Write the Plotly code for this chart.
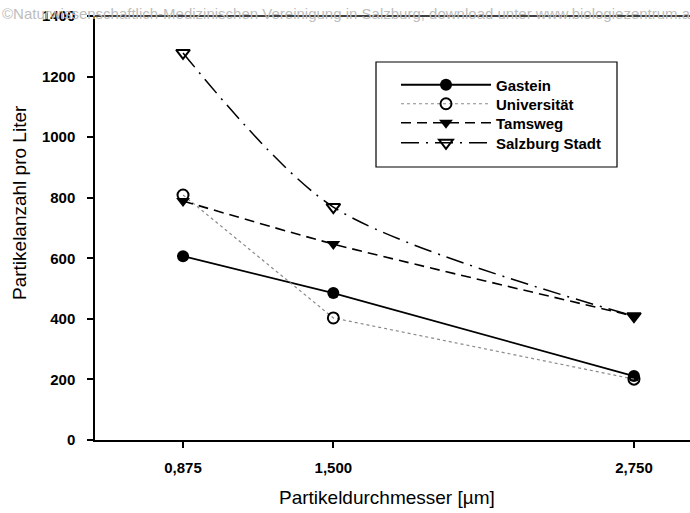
import plotly.graph_objects as go

x_vals = [0.875, 1.5, 2.75]
x_labels = ["0,875", "1,500", "2,750"]
gastein = [607, 485, 211]
universitaet = [809, 403, 201]
tamsweg = [789, 647, 409]
salzburg_stadt = [1278, 769, 409]
y_ticks = [0, 200, 400, 600, 800, 1000, 1200, 1400]

W, H = 690, 513
ML, MR, MT, MB = 95, 0, 16, 73
PW, PH = W - ML - MR, H - MT - MB

def px(x):
    return (x - ML) / PW

def py(y):
    return (H - MB - y) / PH

fig = go.Figure()
fig.add_trace(go.Scatter(x=x_vals, y=gastein, name="Gastein", mode="lines+markers",
                         line=dict(color="black", width=1.8),
                         marker=dict(symbol="circle", size=12, color="black"),
                         legend="legend"))
fig.add_trace(go.Scatter(x=x_vals, y=universitaet, name="Universität", mode="lines+markers",
                         line=dict(color="#8a8a8a", width=1.2, dash="dot"),
                         marker=dict(symbol="circle-open", size=11, color="black", line=dict(width=2)),
                         legend="legend2"))
fig.add_trace(go.Scatter(x=x_vals, y=tamsweg, name="Tamsweg", mode="lines+markers",
                         line=dict(color="black", width=1.6, dash="10px,6px", shape="spline", smoothing=0.6),
                         marker=dict(symbol="triangle-down", size=12, color="black"),
                         legend="legend3"))
fig.add_trace(go.Scatter(x=x_vals, y=salzburg_stadt, name="Salzburg Stadt", mode="lines+markers",
                         line=dict(color="black", width=1.5, dash="18px,7px,2px,7px", shape="spline", smoothing=0.8),
                         marker=dict(symbol="triangle-down-open", size=12, color="black", line=dict(width=2)),
                         legend="legend4"))

leg_font = dict(size=15, family="Liberation Sans, Arial, sans-serif", weight="bold")
def leg(ycen):
    return dict(x=px(396), y=py(ycen), xanchor="left", yanchor="middle",
                bgcolor="rgba(0,0,0,0)", borderwidth=0, font=leg_font, itemwidth=90)

tick_font = dict(size=15, weight="bold")
fig.update_layout(
    width=W, height=H,
    margin=dict(l=ML, r=MR, t=MT, b=MB),
    paper_bgcolor="white", plot_bgcolor="white",
    font=dict(family="Liberation Sans, Arial, sans-serif", color="black", size=15),
    showlegend=True,
    legend=leg(85), legend2=leg(104), legend3=leg(123), legend4=leg(143),
    xaxis=dict(range=[0.509, 2.983], tickvals=x_vals, ticktext=x_labels,
               showgrid=False, zeroline=False, showline=True, linecolor="black", linewidth=1.5,
               mirror=False, ticks="outside", ticklen=6, tickcolor="black", tickwidth=1.5,
               ticklabelstandoff=7, tickfont=tick_font),
    yaxis=dict(range=[0, 1400], tickvals=y_ticks,
               showgrid=False, zeroline=False, showline=True, linecolor="black", linewidth=1.5,
               ticks="outside", ticklen=6, tickcolor="black", tickwidth=1.5,
               ticklabelstandoff=9, tickfont=tick_font),
)
# cover the stray right-edge line of the plot area
fig.add_shape(type="rect", xref="paper", yref="paper", x0=px(684), x1=1.0, y0=py(438.5), y1=py(17.5),
              line=dict(width=0), fillcolor="white", layer="above")
# top frame line of the plot area
fig.add_shape(type="line", xref="paper", yref="paper", x0=0, x1=1, y0=1, y1=1,
              line=dict(color="black", width=1.5), layer="above")
# legend frame
fig.add_shape(type="rect", xref="paper", yref="paper", x0=px(376), x1=px(617), y0=py(62), y1=py(167),
              line=dict(color="black", width=1.2), fillcolor="rgba(0,0,0,0)", layer="below")
# axis titles
fig.add_annotation(text="Partikeldurchmesser [µm]", xref="paper", yref="paper",
                   x=px(387), y=py(497), xanchor="center", yanchor="middle", showarrow=False,
                   font=dict(size=19))
fig.add_annotation(text="Partikelanzahl pro Liter", xref="paper", yref="paper",
                   x=px(19), y=py(203), xanchor="center", yanchor="middle", showarrow=False,
                   textangle=-90, font=dict(size=19))
fig.add_annotation(text="©Naturwissenschaftlich-Medizinischen Vereinigung in Salzburg; download unter www.biologiezentrum.at",
                   xref="paper", yref="paper", x=px(0), y=py(13), xanchor="left", yanchor="middle",
                   showarrow=False, font=dict(size=15, color="#bdbdbd"))
fig.write_html("out.html")
